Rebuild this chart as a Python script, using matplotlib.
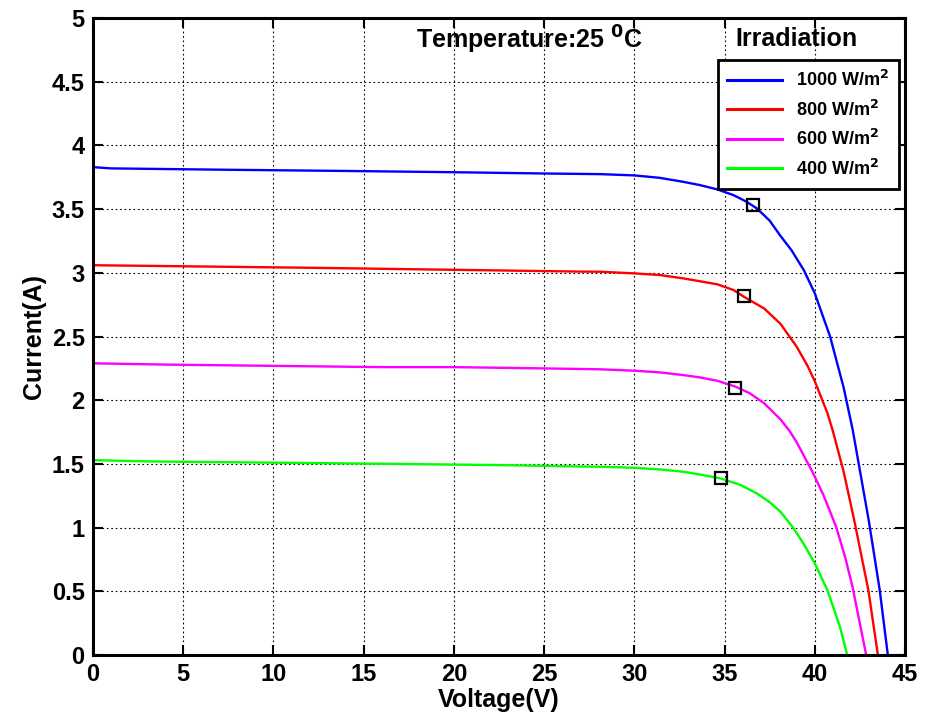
import matplotlib
matplotlib.use('Agg')
import matplotlib.pyplot as plt

plt.rcParams['font.family'] = ['Liberation Sans', 'DejaVu Sans']
plt.rcParams['font.weight'] = 'bold'

# I-V curves (voltage in V, current in A)
v_1000 = [0, 1, 7, 14, 20, 25, 28.1, 30, 31.4, 32.7, 33.6, 34.6, 35.5, 36.2, 36.8, 37.5, 38.1,
          38.7, 39.4, 40, 40.85, 41.6, 42.1, 42.5, 43, 43.6, 44.05]
i_1000 = [3.83, 3.82, 3.81, 3.80, 3.79, 3.78, 3.775, 3.765, 3.746, 3.715, 3.69, 3.655, 3.61, 3.56,
          3.505, 3.41, 3.29, 3.18, 3.02, 2.84, 2.50, 2.10, 1.77, 1.45, 1.05, 0.51, 0]

v_800 = [0, 6, 12, 17, 22, 27, 28.1, 30, 31.4, 32.7, 33.6, 34.6, 35.5, 36.1, 37.2, 38.1, 38.5,
         39, 39.6, 40, 40.7, 41, 41.6, 42.2, 42.97, 43.5]
i_800 = [3.06, 3.05, 3.04, 3.03, 3.02, 3.01, 3.009, 2.996, 2.983, 2.957, 2.935, 2.91, 2.865, 2.81,
         2.72, 2.60, 2.52, 2.42, 2.27, 2.15, 1.90, 1.76, 1.44, 1.05, 0.51, 0]

v_600 = [0, 4, 10, 16, 20, 25, 28.1, 30, 31.4, 32.7, 33.6, 34.6, 35.6, 36.4, 37.2, 38.1, 38.6,
         39, 39.9, 40.5, 41.2, 41.7, 42.1, 42.85]
i_600 = [2.29, 2.28, 2.27, 2.26, 2.26, 2.25, 2.243, 2.232, 2.219, 2.198, 2.18, 2.153, 2.107, 2.055,
         1.976, 1.85, 1.76, 1.67, 1.43, 1.25, 1.0, 0.76, 0.53, 0]

v_400 = [0, 3, 10, 17, 23, 27, 28.1, 30, 31.4, 32.7, 33.6, 34.8, 35.9, 36.8, 37.5, 38.1, 38.8,
         39.4, 40, 40.7, 41.4, 41.8]
i_400 = [1.53, 1.52, 1.51, 1.50, 1.49, 1.48, 1.478, 1.47, 1.457, 1.439, 1.418, 1.386, 1.334, 1.268,
         1.20, 1.125, 1.0, 0.87, 0.72, 0.51, 0.22, 0]

# maximum power points
mpp_v = [36.6, 36.1, 35.6, 34.8]
mpp_i = [3.53, 2.82, 2.10, 1.39]

labels = ['1000 W/m$^2$', '800 W/m$^2$', '600 W/m$^2$', '400 W/m$^2$']
colors = ['#0000ff', '#ff0000', '#ff00ff', '#00ff00']

fig = plt.figure(figsize=(9.26, 7.23), dpi=100)
ax = fig.add_axes([0.1004, 0.094, 0.8769, 0.881])

curves = [(v_1000, i_1000), (v_800, i_800), (v_600, i_600), (v_400, i_400)]
for (v, i), lab, c in zip(curves, labels, colors):
    ax.plot(v, i, color=c, linewidth=1.7, label=lab)

ax.plot(mpp_v, mpp_i, linestyle='none', marker='s', markersize=9,
        markerfacecolor='none', markeredgecolor='black', markeredgewidth=1.6)

ax.set_xlim(0, 45)
ax.set_ylim(0, 5)
ax.set_xticks(range(0, 46, 5))
ax.set_yticks([0, 0.5, 1, 1.5, 2, 2.5, 3, 3.5, 4, 4.5, 5])
ax.set_yticklabels(['0', '0.5', '1', '1.5', '2', '2.5', '3', '3.5', '4', '4.5', '5'])
ax.grid(True, color='black', linestyle=(0, (1.5, 2.5)), linewidth=0.8)
ax.tick_params(direction='in', length=7, width=1.5, top=True, right=True,
               labelsize=17, pad=6)
for s in ax.spines.values():
    s.set_linewidth(2.2)

ax.set_xlabel('Voltage(V)', fontsize=18, fontweight='bold', labelpad=1)
ax.set_ylabel('Current(A)', fontsize=18, fontweight='bold', labelpad=4)

ax.text(24.2, 4.76, 'Temperature:25 $^{\\mathbf{0}}$C', fontsize=18, fontweight='bold',
        ha='center', va='baseline')
ax.text(39.0, 4.78, 'Irradiation', fontsize=18, fontweight='bold',
        ha='center', va='baseline')

leg = ax.legend(loc='upper right', bbox_to_anchor=(0.9926, 0.934), borderaxespad=0,
                fancybox=False, framealpha=1, edgecolor='black', fontsize=13,
                handlelength=3.0, labelspacing=0.52, borderpad=0.55, handletextpad=0.8)
leg.get_frame().set_linewidth(2)
for line in leg.get_lines():
    line.set_linewidth(2.2)

fig.savefig('out.png', dpi=100)
